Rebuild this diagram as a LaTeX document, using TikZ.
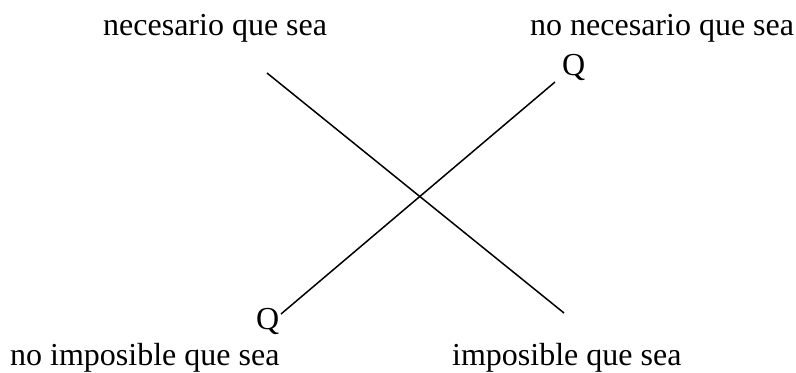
\documentclass[tikz,border=0pt]{standalone}
\usepackage{fontspec}
\setmainfont{Liberation Serif}

\begin{document}
\begin{tikzpicture}[
    x=1bp, y=-1bp,
    lbl/.style={anchor=base west, inner sep=0pt, font=\fontsize{32bp}{38bp}\selectfont},
    diag/.style={line width=1.5bp, line cap=butt}
]
  \useasboundingbox (0,0) rectangle (796,372);

  % corner labels
  \node[lbl] (nec)    at (103,35)  {necesario que sea};
  \node[lbl] (nonec)  at (530,35)  {no necesario que sea};
  \node[lbl] (noimp)  at (10,365)  {no imposible que sea};
  \node[lbl] (imp)    at (452,365) {imposible que sea};
  \node[lbl] (qtop)   at (562,75)  {Q};
  \node[lbl] (qbot)   at (256,329) {Q};

  % ends of the two diagonals
  \coordinate (nec-end)   at (267,73);
  \coordinate (imp-end)   at (564,313);
  \coordinate (nonec-end) at (555,82);
  \coordinate (noimp-end) at (281,314);

  \draw[diag] (nec-end) -- (imp-end);
  \draw[diag] (nonec-end) -- (noimp-end);
\end{tikzpicture}
\end{document}
